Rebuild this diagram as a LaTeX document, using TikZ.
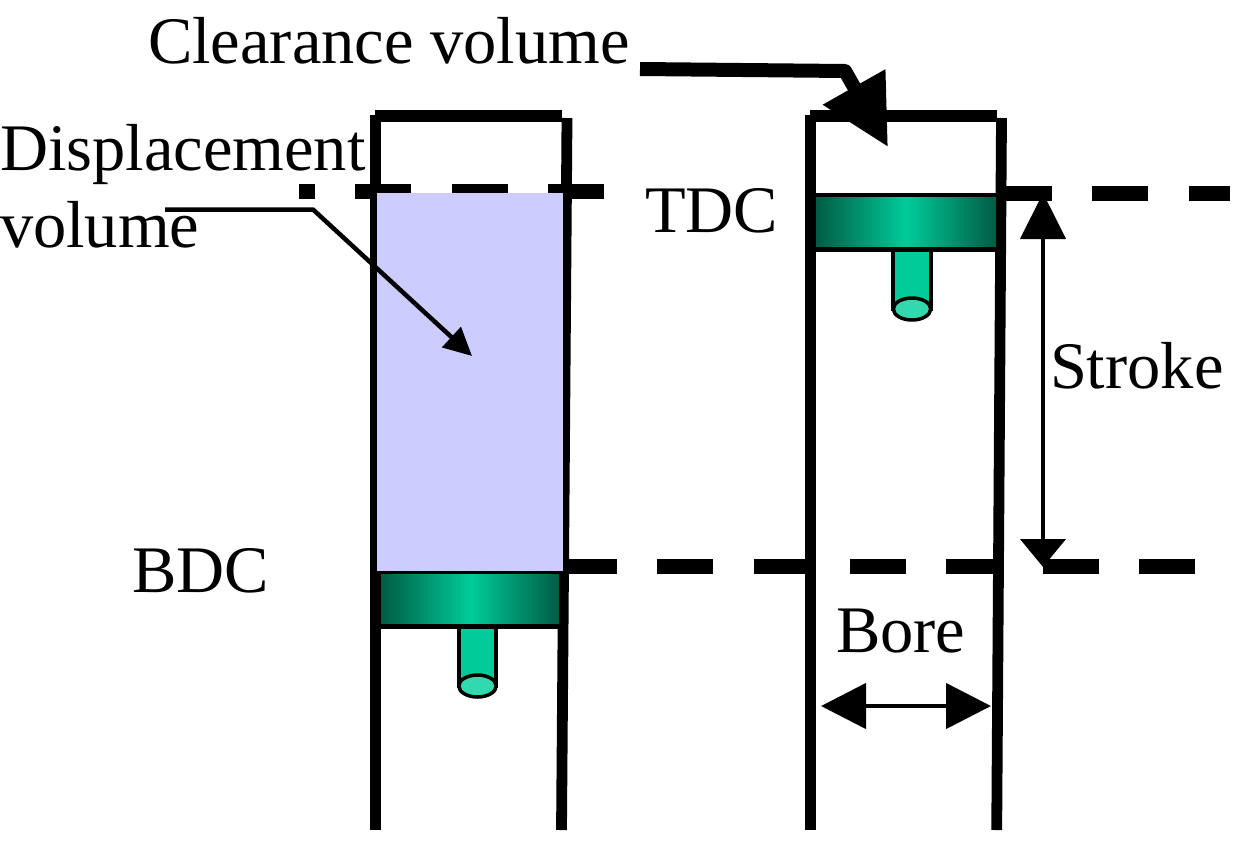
\documentclass[tikz,border=0pt]{standalone}
\usepackage{fontspec}
\setmainfont{Liberation Serif}
\usetikzlibrary{arrows.meta}
\definecolor{lilac}{HTML}{CCCCFF}
\definecolor{pistonmid}{HTML}{00CC99}
\definecolor{pistondark}{HTML}{005C44}
\definecolor{rodend}{HTML}{33D9AE}
\tikzset{
  px/.style={x=1pt,y=-1pt},
  label text/.style={anchor=base west,inner sep=0pt,outer sep=0pt,font=\fontsize{66.5}{66.5}\selectfont},
  wall/.style={line width=10.8pt,line cap=butt},
  dashline/.style={line width=15pt,dash pattern=on 56pt off 40.3pt},
  thinarrow/.style={line width=4.5pt},
  bigboth/.style={{Triangle[length=45pt,width=45pt]}-{Triangle[length=45pt,width=45pt]}},
  strokeboth/.style={{Triangle[length=46pt,width=45pt]}-{Triangle[length=28pt,width=45pt]}},
  rod/.style={draw=black,line width=3.5pt,fill=pistonmid},
  rodcap/.style={draw=black,line width=3.5pt,fill=rodend},
}
\newcommand{\pistonshape}[4]{% x1,x2,top,bottom
  \path[left color=pistondark,right color=pistondark,middle color=pistonmid] (#1,#3) rectangle (#2,#4);
  \fill[black] (#1,#3-3.5) rectangle (#2,#3);
  \fill[black] (#1,#4) rectangle (#2,#4+5);
}
\begin{document}
\begin{tikzpicture}[px]
\useasboundingbox[fill=white] (0,0) rectangle (1238,857);

% named points
\coordinate (tdcLa) at (604,191.5);
\coordinate (tdcLb) at (299,191.5);
\coordinate (tdcRa) at (996,193);
\coordinate (tdcRb) at (1230,193);
\coordinate (bdca) at (561,566.5);
\coordinate (bdcb) at (1195,566.5);
\coordinate (clrStart) at (640,69);
\coordinate (clrBend) at (845,71);
\coordinate (clrTip) at (888,147);
\coordinate (dispStart) at (165,209.5);
\coordinate (dispBend) at (313,209.5);
\coordinate (dispTip) at (472,356);
\coordinate (strokeTop) at (1043,193);
\coordinate (strokeBot) at (1043,567);
\coordinate (boreL) at (821,706);
\coordinate (boreR) at (991,706);

% dashed reference lines
\draw[dashline] (tdcLa) -- (tdcLb);
\draw[dashline] (tdcRa) -- (tdcRb);
\draw[dashline] (bdca) -- (bdcb);

% left cylinder
\draw[wall] (375.5,115) -- (375.5,830);
\draw[wall] (567,118) -- (561.5,830);
\draw[line width=11.7pt] (375,116) -- (562,116);
\fill[lilac] (377,193) rectangle (563,571);
\filldraw[rod] (459,627) -- (459,686) -- (496,686) -- (496,627) -- cycle;
\draw[rodcap] (477.5,686) ellipse (18.7pt and 11pt);
\pistonshape{381}{559}{574}{624}

% right cylinder
\draw[wall] (810.5,115) -- (810.5,830);
\draw[wall] (1001.5,118) -- (996.7,830);
\draw[line width=11.7pt] (810,116) -- (997,116);
\filldraw[rod] (893,249) -- (893,309) -- (931,309) -- (931,249) -- cycle;
\draw[rodcap] (912,309) ellipse (18.7pt and 11pt);
\pistonshape{816}{996}{196.7}{246.7}

% connectors
\draw[line width=14pt,line join=round,-{Triangle[length=69pt,width=68pt]}] (clrStart) -- (clrBend) -- (clrTip);
\draw[thinarrow,line join=round,-{Triangle[length=28pt,width=27pt]}] (dispStart) -- (dispBend) -- (dispTip);
\draw[thinarrow,strokeboth] (strokeTop) -- (strokeBot);
\draw[thinarrow,bigboth] (boreL) -- (boreR);

% labels
\node[label text] (clearance) at (148,63) {Clearance volume};
\node[label text] (displacement) at (0,170) {Displacement};
\node[label text] (volume) at (0,247) {volume};
\node[label text] (tdc) at (645,232) {TDC};
\node[label text] (bdc) at (132,592) {BDC};
\node[label text] (stroke) at (1050,388) {Stroke};
\node[label text] (bore) at (836,652) {Bore};
\end{tikzpicture}
\end{document}
